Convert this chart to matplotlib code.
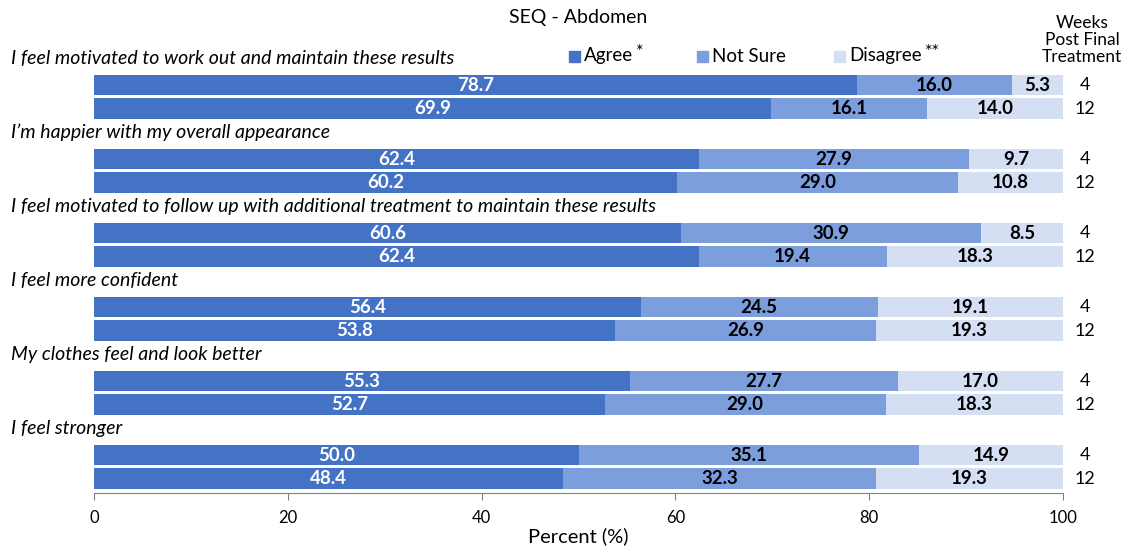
import matplotlib
matplotlib.use("Agg")
import matplotlib.pyplot as plt
from matplotlib.patches import Rectangle

FONT = ["Lato", "DejaVu Sans"]
plt.rcParams["font.family"] = FONT

statements = [
    "I feel motivated to work out and maintain these results",
    "I\u2019m happier with my overall appearance",
    "I feel motivated to follow up with additional treatment to maintain these results",
    "I feel more confident",
    "My clothes feel and look better",
    "I feel stronger",
]
weeks = ["4", "12"]
agree = [[78.7, 69.9], [62.4, 60.2], [60.6, 62.4], [56.4, 53.8], [55.3, 52.7], [50.0, 48.4]]
not_sure = [[16.0, 16.1], [27.9, 29.0], [30.9, 19.4], [24.5, 26.9], [27.7, 29.0], [35.1, 32.3]]
disagree = [[5.3, 14.0], [9.7, 10.8], [8.5, 18.3], [19.1, 19.3], [17.0, 18.3], [14.9, 19.3]]
ticks = [0, 20, 40, 60, 80, 100]

colors = ["#4472C4", "#7D9EDC", "#D5DFF4"]
text_colors = ["white", "black", "black"]
legend_labels = ["Agree", "Not Sure", "Disagree"]
legend_marks = ["*", "", "**"]

fig = plt.figure(figsize=(11.3, 5.46), dpi=100)
ax = fig.add_axes([94 / 1130, 1 - 493 / 546, (1063 - 94) / 1130, (493 - 40) / 546])

row_step = 0.318
bar_h = 0.28
for g in range(len(statements)):
    for k in range(2):
        y = g + k * row_step
        left = 0.0
        for vals, c, tc in zip([agree, not_sure, disagree], colors, text_colors):
            v = vals[g][k]
            ax.barh(y, v, left=left, height=bar_h, color=c, edgecolor="none")
            ax.text(left + v / 2, y, f"{v:.1f}", ha="center", va="center",
                    color=tc, fontsize=13.5, fontweight="bold")
            left += v
        ax.text(102.3, y, weeks[k], ha="center", va="center", fontsize=13,
                clip_on=False)
    ax.text(-8.6, g - 0.36, statements[g], ha="left", va="center", fontsize=14,
            style="italic", clip_on=False)

ax.set_xlim(0, 100)
ax.set_ylim((493 - 85) / 74, (40 - 85) / 74)
ax.set_yticks([])
ax.set_xticks(ticks)
ax.set_xticklabels([str(t) for t in ticks], fontsize=12)
ax.tick_params(axis="x", length=5, color="#808080", pad=7)
for s in ["top", "right", "left"]:
    ax.spines[s].set_visible(False)
ax.spines["bottom"].set_color("#808080")
ax.set_xlabel("Percent (%)", fontsize=14.5, labelpad=1)

fig.text(578 / 1130, 1 - 18 / 546, "SEQ - Abdomen", ha="center", va="center", fontsize=14)
fig.text(1082 / 1130, 1 - 40 / 546, "Weeks\nPost Final\nTreatment", ha="center",
         va="center", fontsize=12.5, linespacing=1.05)

# legend row
leg_x = [569, 697, 834]
for x, lab, mark, c in zip(leg_x, legend_labels, legend_marks, colors):
    fig.patches.append(Rectangle((x / 1130, 1 - 62 / 546), 11 / 1130, 11 / 546,
                                 transform=fig.transFigure, color=c))
    t = fig.text((x + 15) / 1130, 1 - 56 / 546, lab, ha="left", va="center", fontsize=13.5)
    if mark:
        fig.canvas.draw()
        bb = t.get_window_extent()
        fig.text(bb.x1 / 1130 + 3 / 1130, 1 - 52 / 546, mark, ha="left", va="center",
                 fontsize=13)

fig.savefig("out.png", dpi=100)
